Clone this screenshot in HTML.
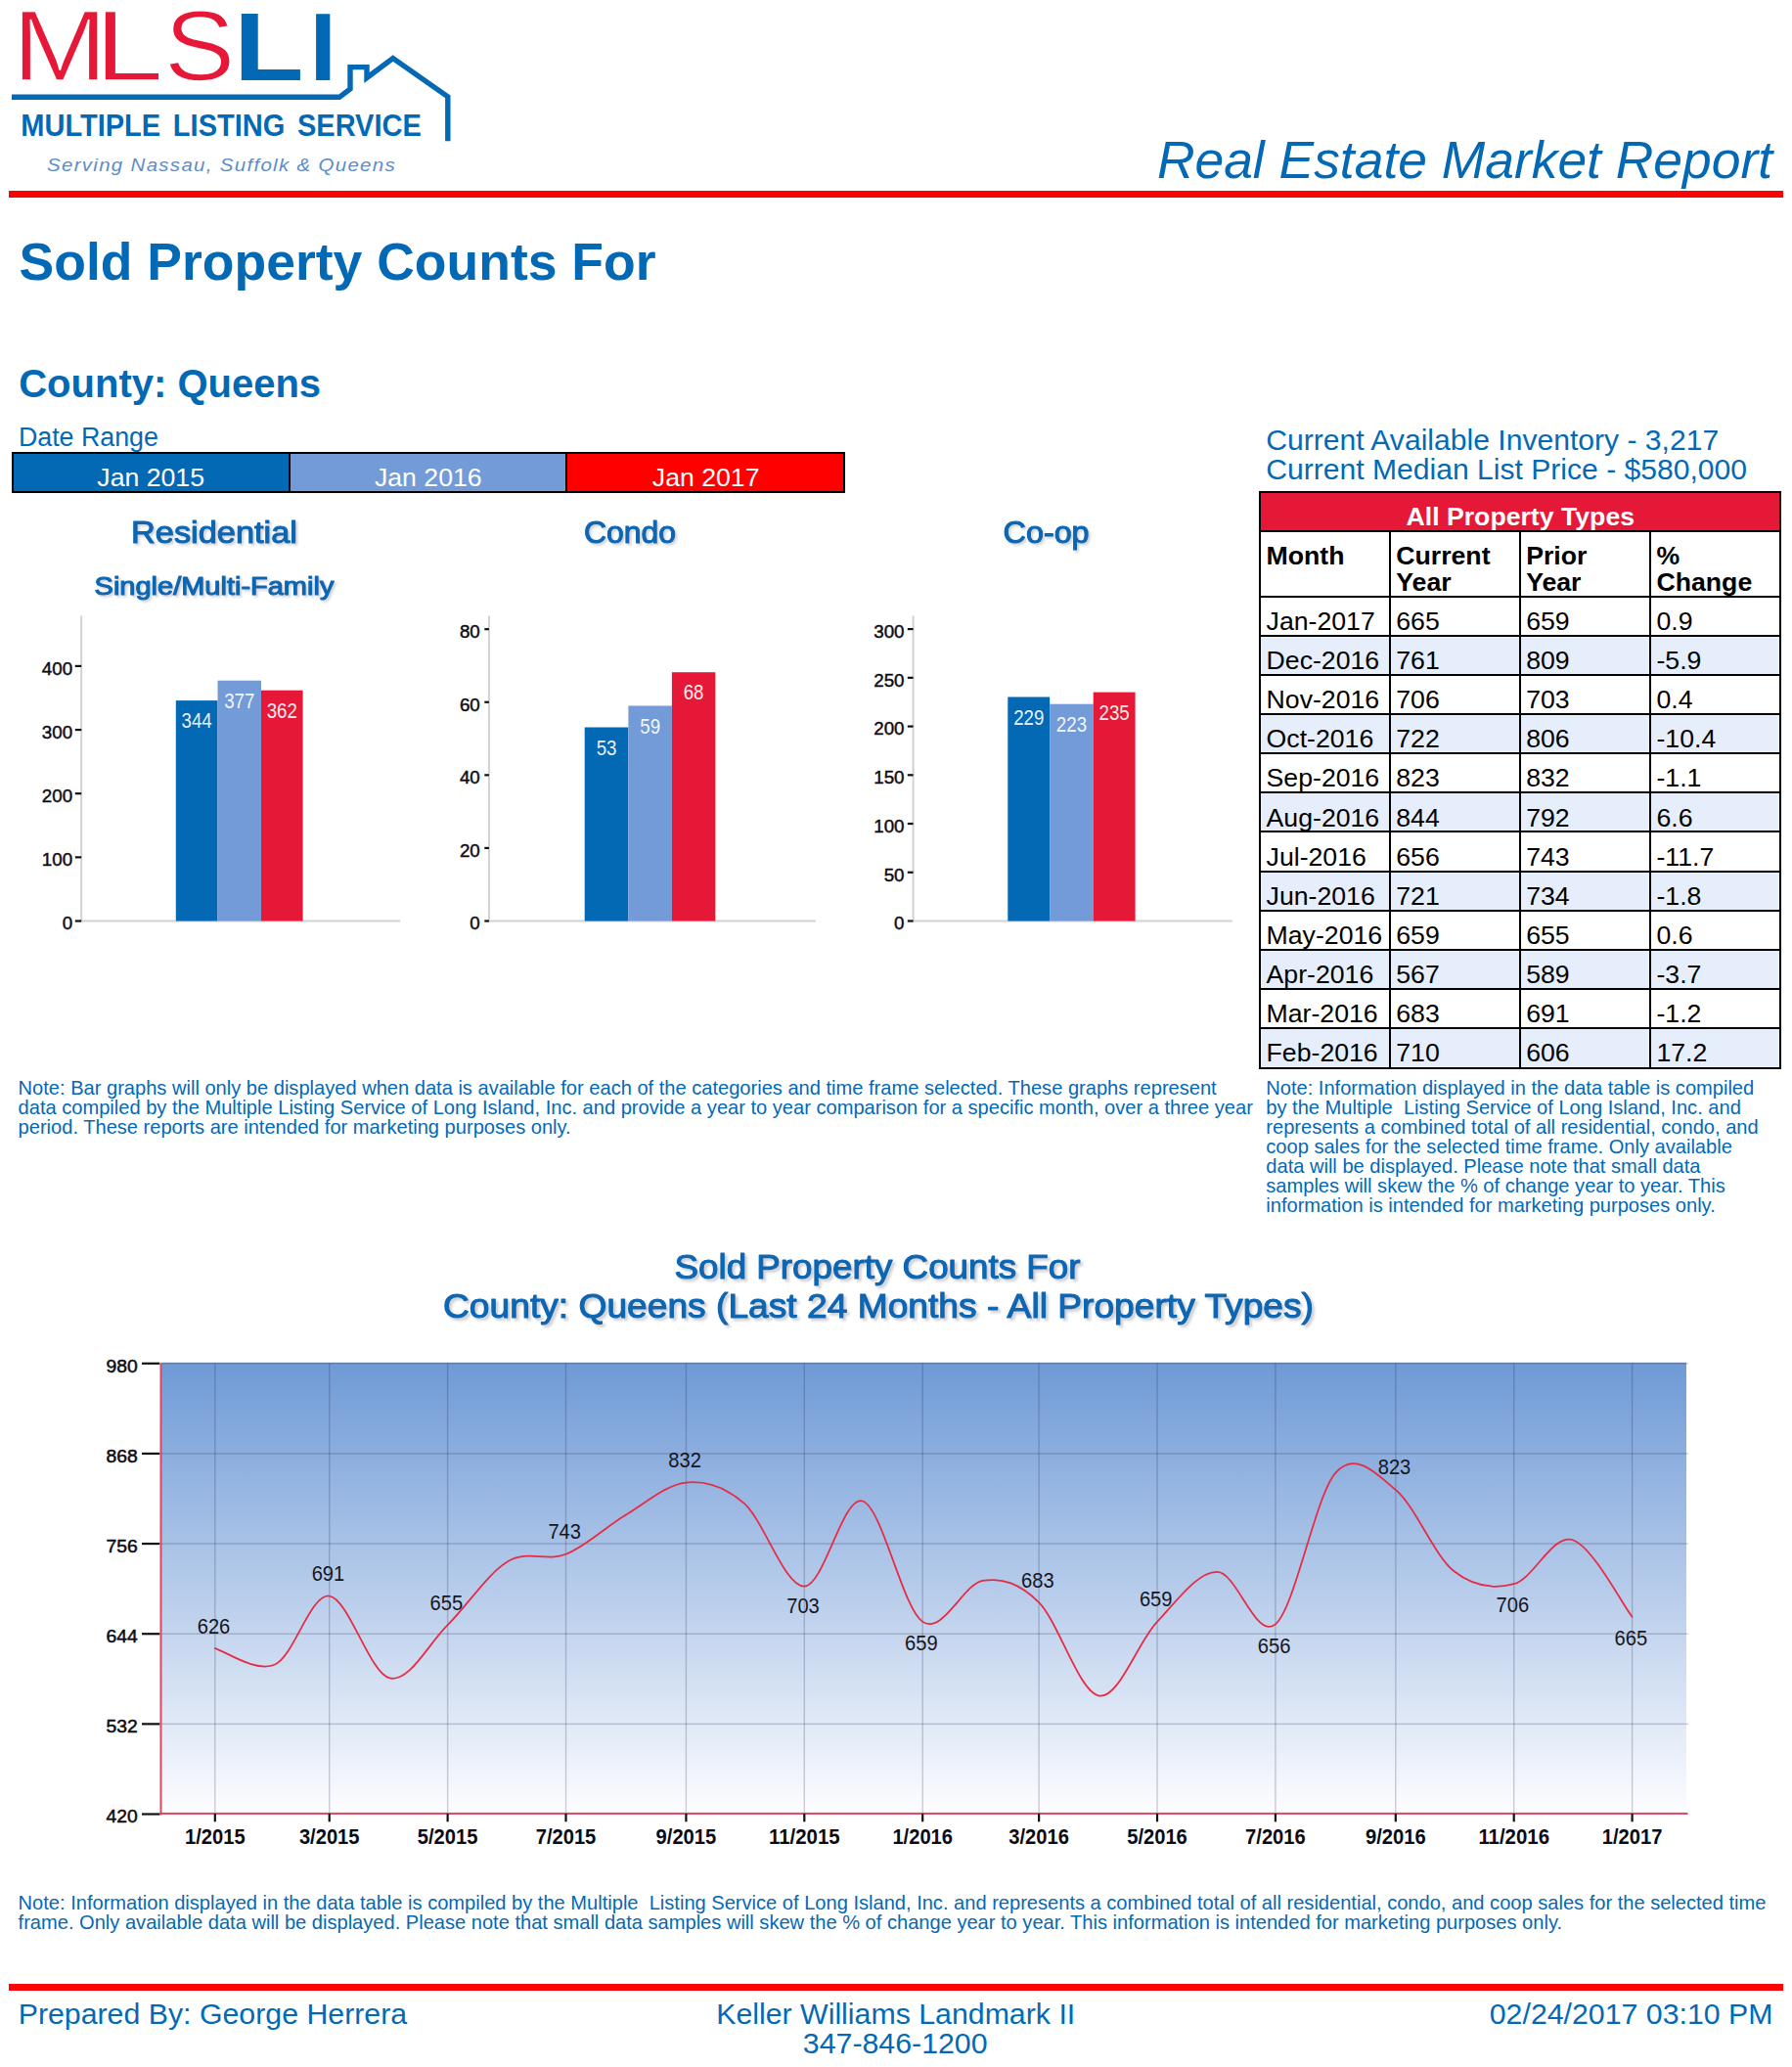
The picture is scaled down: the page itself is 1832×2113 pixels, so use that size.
<!DOCTYPE html>
<html lang="en"><head><meta charset="utf-8"><title>Real Estate Market Report</title>
<style>
html,body{margin:0;padding:0;background:#fff;}
body{width:1832px;height:2113px;position:relative;overflow:hidden;font-family:'Liberation Sans',Arial,sans-serif;}
.t{position:absolute;white-space:pre;margin:0;padding:0;}
.rl{position:absolute;left:9px;width:1814.3px;height:6.6px;background:#F80606;}
#pagesvg{position:absolute;left:0;top:0;}
#pagesvg text{font-family:'Liberation Sans',Arial,sans-serif;}
.db{position:absolute;top:462px;height:38px;border:2px solid #000;box-sizing:content-box;}
table.dt{position:absolute;left:1287.2px;top:502.2px;border-collapse:collapse;table-layout:fixed;width:532.2px;font-size:26.67px;color:#000;}
table.dt td,table.dt th{border:2px solid #000;padding:0 0 0 5.4px;text-align:left;vertical-align:top;overflow:hidden;white-space:nowrap;box-sizing:border-box;}
table.dt tr.d td{height:40.14px;line-height:26px;padding-top:11.3px;}
table.dt tr.alt td{background:#E6EEFC;}
table.dt tr.last td{height:40.6px;}
table.dt tr.h th{background:#E51937;color:#fff;text-align:center;font-weight:bold;height:39.8px;line-height:26px;padding:11.1px 0 0 0;}
table.dt tr.c th{font-weight:bold;line-height:26.7px;height:66.7px;padding-top:11.2px;white-space:normal;}
</style></head><body>

<div class="t" style="right:20.00px;top:131.50px;font-size:53.4px;line-height:64px;color:#0369B5;font-weight:normal;font-style:italic;">Real Estate Market Report</div>
<div class="rl" style="top:195px"></div>
<div class="t" style="left:19.60px;top:235.50px;font-size:53.5px;line-height:64px;color:#0369B5;font-weight:bold;font-style:normal;">Sold Property Counts For</div>
<div class="t" style="left:19.20px;top:368.00px;font-size:40.0px;line-height:48px;color:#0369B5;font-weight:bold;font-style:normal;">County: Queens</div>
<div class="t" style="left:18.90px;top:431.00px;font-size:26.8px;line-height:32px;color:#0369B5;font-weight:normal;font-style:normal;">Date Range</div>
<div class="db" style="left:12.00px;width:281.30px;background:#0369B5;"></div>
<div class="t" style="left:-845.85px;width:2000px;text-align:center;top:472.00px;font-size:26.67px;line-height:32px;color:#fff;font-weight:normal;font-style:normal;">Jan 2015</div>
<div class="db" style="left:295.30px;width:281.00px;background:#729BD7;"></div>
<div class="t" style="left:-562.20px;width:2000px;text-align:center;top:472.00px;font-size:26.67px;line-height:32px;color:#fff;font-weight:normal;font-style:normal;">Jan 2016</div>
<div class="db" style="left:578.30px;width:281.70px;background:#FF0000;"></div>
<div class="t" style="left:-278.35px;width:2000px;text-align:center;top:472.00px;font-size:26.67px;line-height:32px;color:#fff;font-weight:normal;font-style:normal;">Jan 2017</div>
<div class="t" style="left:1294.30px;top:431.50px;font-size:30.1px;line-height:36px;color:#0369B5;font-weight:normal;font-style:normal;">Current Available Inventory - 3,217</div>
<div class="t" style="left:1294.30px;top:461.50px;font-size:30.1px;line-height:36px;color:#0369B5;font-weight:normal;font-style:normal;">Current Median List Price - $580,000</div>
<table class="dt"><colgroup><col style="width:132.7px"><col style="width:132.9px"><col style="width:133.3px"><col style="width:133.3px"></colgroup>
<tr class="h"><th colspan="4">All Property Types</th></tr>
<tr class="c"><th>Month</th><th>Current<br>Year</th><th>Prior<br>Year</th><th>%<br>Change</th></tr>
<tr class="d"><td>Jan-2017</td><td>665</td><td>659</td><td>0.9</td></tr>
<tr class="d alt"><td>Dec-2016</td><td>761</td><td>809</td><td>-5.9</td></tr>
<tr class="d"><td>Nov-2016</td><td>706</td><td>703</td><td>0.4</td></tr>
<tr class="d alt"><td>Oct-2016</td><td>722</td><td>806</td><td>-10.4</td></tr>
<tr class="d"><td>Sep-2016</td><td>823</td><td>832</td><td>-1.1</td></tr>
<tr class="d alt"><td>Aug-2016</td><td>844</td><td>792</td><td>6.6</td></tr>
<tr class="d"><td>Jul-2016</td><td>656</td><td>743</td><td>-11.7</td></tr>
<tr class="d alt"><td>Jun-2016</td><td>721</td><td>734</td><td>-1.8</td></tr>
<tr class="d"><td>May-2016</td><td>659</td><td>655</td><td>0.6</td></tr>
<tr class="d alt"><td>Apr-2016</td><td>567</td><td>589</td><td>-3.7</td></tr>
<tr class="d"><td>Mar-2016</td><td>683</td><td>691</td><td>-1.2</td></tr>
<tr class="d alt last"><td>Feb-2016</td><td>710</td><td>606</td><td>17.2</td></tr>
</table>
<div class="t" style="left:18.60px;top:1100.00px;font-size:20.09px;line-height:24px;color:#0369B5;font-weight:normal;font-style:normal;">Note: Bar graphs will only be displayed when data is available for each of the categories and time frame selected. These graphs represent</div>
<div class="t" style="left:18.60px;top:1120.00px;font-size:20.09px;line-height:24px;color:#0369B5;font-weight:normal;font-style:normal;">data compiled by the Multiple Listing Service of Long Island, Inc. and provide a year to year comparison for a specific month, over a three year</div>
<div class="t" style="left:18.60px;top:1140.00px;font-size:20.09px;line-height:24px;color:#0369B5;font-weight:normal;font-style:normal;">period. These reports are intended for marketing purposes only.</div>
<div class="t" style="left:1294.30px;top:1100.00px;font-size:20.09px;line-height:24px;color:#0369B5;font-weight:normal;font-style:normal;">Note: Information displayed in the data table is compiled</div>
<div class="t" style="left:1294.30px;top:1120.00px;font-size:20.09px;line-height:24px;color:#0369B5;font-weight:normal;font-style:normal;">by the Multiple  Listing Service of Long Island, Inc. and</div>
<div class="t" style="left:1294.30px;top:1140.00px;font-size:20.09px;line-height:24px;color:#0369B5;font-weight:normal;font-style:normal;">represents a combined total of all residential, condo, and</div>
<div class="t" style="left:1294.30px;top:1160.00px;font-size:20.09px;line-height:24px;color:#0369B5;font-weight:normal;font-style:normal;">coop sales for the selected time frame. Only available</div>
<div class="t" style="left:1294.30px;top:1180.00px;font-size:20.09px;line-height:24px;color:#0369B5;font-weight:normal;font-style:normal;">data will be displayed. Please note that small data</div>
<div class="t" style="left:1294.30px;top:1200.00px;font-size:20.09px;line-height:24px;color:#0369B5;font-weight:normal;font-style:normal;">samples will skew the % of change year to year. This</div>
<div class="t" style="left:1294.30px;top:1220.00px;font-size:20.09px;line-height:24px;color:#0369B5;font-weight:normal;font-style:normal;">information is intended for marketing purposes only.</div>
<div class="t" style="left:18.60px;top:1933.00px;font-size:20.09px;line-height:24px;color:#0369B5;font-weight:normal;font-style:normal;">Note: Information displayed in the data table is compiled by the Multiple  Listing Service of Long Island, Inc. and represents a combined total of all residential, condo, and coop sales for the selected time</div>
<div class="t" style="left:18.60px;top:1953.00px;font-size:20.09px;line-height:24px;color:#0369B5;font-weight:normal;font-style:normal;">frame. Only available data will be displayed. Please note that small data samples will skew the % of change year to year. This information is intended for marketing purposes only.</div>
<div class="rl" style="top:2028px"></div>
<div class="t" style="left:18.70px;top:2040.50px;font-size:30.3px;line-height:36px;color:#0369B5;font-weight:normal;font-style:normal;">Prepared By: George Herrera</div>
<div class="t" style="left:-84.30px;width:2000px;text-align:center;top:2040.50px;font-size:30.3px;line-height:36px;color:#0369B5;font-weight:normal;font-style:normal;">Keller Williams Landmark II</div>
<div class="t" style="left:-84.80px;width:2000px;text-align:center;top:2070.50px;font-size:30.3px;line-height:36px;color:#0369B5;font-weight:normal;font-style:normal;">347-846-1200</div>
<div class="t" style="right:19.50px;top:2040.50px;font-size:30.3px;line-height:36px;color:#0369B5;font-weight:normal;font-style:normal;">02/24/2017 03:10 PM</div>
<svg id="pagesvg" width="1832" height="2113" viewBox="0 0 1832 2113">
<defs>
<linearGradient id="pg" x1="0" y1="0" x2="0" y2="1"><stop offset="0" stop-color="#6F9AD6"/><stop offset="1" stop-color="#FDFDFF"/></linearGradient>
<filter id="sh" x="-5%" y="-20%" width="110%" height="150%"><feDropShadow dx="2" dy="2" stdDeviation="1.0" flood-color="#334" flood-opacity="0.22"/></filter>
<filter id="sh2" x="-5%" y="-20%" width="110%" height="150%"><feDropShadow dx="2.6" dy="2.6" stdDeviation="1.2" flood-color="#334" flood-opacity="0.24"/></filter>
</defs>
<g id="logo">
<text y="81.9" font-size="101.7" fill="#E51937" stroke="#fff" stroke-width="1.4"><tspan x="12.4" textLength="97.1" lengthAdjust="spacingAndGlyphs">M</tspan><tspan x="96.5" textLength="70.7" lengthAdjust="spacingAndGlyphs">L</tspan><tspan x="168.1" textLength="72.2" lengthAdjust="spacingAndGlyphs">S</tspan></text>
<text x="239.1" y="82" font-size="98.5" font-weight="bold" fill="#0369B5" textLength="71.5" lengthAdjust="spacingAndGlyphs">L</text>
<text x="316.4" y="82" font-size="98.5" font-weight="bold" fill="#0369B5">I</text>
<path d="M12 99.3 H347 L358 91 V68.6 H375 V79.5 L401.7 59.6 L457.8 98.8 V144.3" fill="none" stroke="#0369B5" stroke-width="5.4" stroke-linejoin="miter" stroke-miterlimit="10"/>
<text x="21.3" y="139.3" font-size="31" font-weight="bold" fill="#0369B5" textLength="409.5" lengthAdjust="spacingAndGlyphs" word-spacing="5">MULTIPLE LISTING SERVICE</text>
<text x="48" y="175" font-size="18.7" font-style="italic" fill="#5C8DC9" textLength="357" lengthAdjust="spacingAndGlyphs" letter-spacing="1.2">Serving Nassau, Suffolk &amp; Queens</text>
</g>
<text x="219.00" y="555.00" font-size="31.6" fill="#0E66B2" stroke="#0E66B2" stroke-width="1.1" stroke-linejoin="round" text-anchor="middle" textLength="170.00" lengthAdjust="spacingAndGlyphs" filter="url(#sh)">Residential</text>
<text x="219.00" y="607.80" font-size="25.2" fill="#0E66B2" stroke="#0E66B2" stroke-width="1.1" stroke-linejoin="round" text-anchor="middle" textLength="244.80" lengthAdjust="spacingAndGlyphs" filter="url(#sh)">Single/Multi-Family</text>
<text x="644.00" y="555.20" font-size="31.6" fill="#0E66B2" stroke="#0E66B2" stroke-width="1.1" stroke-linejoin="round" text-anchor="middle" textLength="94.00" lengthAdjust="spacingAndGlyphs" filter="url(#sh)">Condo</text>
<text x="1069.60" y="555.20" font-size="31.6" fill="#0E66B2" stroke="#0E66B2" stroke-width="1.1" stroke-linejoin="round" text-anchor="middle" textLength="88.00" lengthAdjust="spacingAndGlyphs" filter="url(#sh)">Co-op</text>
<rect x="82.20" y="629.5" width="2" height="313.00" fill="#D2D2D2"/>
<rect x="82.20" y="940.50" width="326.80" height="2" fill="#D2D2D2"/>
<rect x="76.80" y="940.40" width="6.4" height="2.2" fill="#111"/>
<text x="74.10" y="950.40" font-size="19.1" fill="#0b0b14" font-weight="normal" text-anchor="end" textLength="10.43" lengthAdjust="spacingAndGlyphs" stroke="#0b0b14" stroke-width="0.45">0</text>
<rect x="76.80" y="875.25" width="6.4" height="2.2" fill="#111"/>
<text x="74.10" y="885.25" font-size="19.1" fill="#0b0b14" font-weight="normal" text-anchor="end" textLength="31.29" lengthAdjust="spacingAndGlyphs" stroke="#0b0b14" stroke-width="0.45">100</text>
<rect x="76.80" y="810.10" width="6.4" height="2.2" fill="#111"/>
<text x="74.10" y="820.10" font-size="19.1" fill="#0b0b14" font-weight="normal" text-anchor="end" textLength="31.29" lengthAdjust="spacingAndGlyphs" stroke="#0b0b14" stroke-width="0.45">200</text>
<rect x="76.80" y="744.95" width="6.4" height="2.2" fill="#111"/>
<text x="74.10" y="754.95" font-size="19.1" fill="#0b0b14" font-weight="normal" text-anchor="end" textLength="31.29" lengthAdjust="spacingAndGlyphs" stroke="#0b0b14" stroke-width="0.45">300</text>
<rect x="76.80" y="679.80" width="6.4" height="2.2" fill="#111"/>
<text x="74.10" y="689.80" font-size="19.1" fill="#0b0b14" font-weight="normal" text-anchor="end" textLength="31.29" lengthAdjust="spacingAndGlyphs" stroke="#0b0b14" stroke-width="0.45">400</text>
<rect x="179.80" y="716.10" width="42.70" height="225.40" fill="#0369B5"/>
<text x="201.15" y="744.30" font-size="21.2" fill="#fff" font-weight="normal" text-anchor="middle" textLength="31.20" lengthAdjust="spacingAndGlyphs" fill-opacity="0.93">344</text>
<rect x="222.50" y="695.70" width="44.50" height="245.80" fill="#729BD7"/>
<text x="244.75" y="723.90" font-size="21.2" fill="#fff" font-weight="normal" text-anchor="middle" textLength="31.20" lengthAdjust="spacingAndGlyphs" fill-opacity="0.93">377</text>
<rect x="267.00" y="705.70" width="42.60" height="235.80" fill="#E51937"/>
<text x="288.30" y="733.90" font-size="21.2" fill="#fff" font-weight="normal" text-anchor="middle" textLength="31.20" lengthAdjust="spacingAndGlyphs" fill-opacity="0.93">362</text>
<rect x="498.90" y="629.5" width="2" height="313.00" fill="#D2D2D2"/>
<rect x="498.90" y="940.50" width="334.90" height="2" fill="#D2D2D2"/>
<rect x="495.30" y="940.40" width="4.6" height="2.2" fill="#111"/>
<text x="490.80" y="950.40" font-size="19.1" fill="#0b0b14" font-weight="normal" text-anchor="end" textLength="10.43" lengthAdjust="spacingAndGlyphs" stroke="#0b0b14" stroke-width="0.45">0</text>
<rect x="495.30" y="865.82" width="4.6" height="2.2" fill="#111"/>
<text x="490.80" y="875.82" font-size="19.1" fill="#0b0b14" font-weight="normal" text-anchor="end" textLength="20.86" lengthAdjust="spacingAndGlyphs" stroke="#0b0b14" stroke-width="0.45">20</text>
<rect x="495.30" y="791.24" width="4.6" height="2.2" fill="#111"/>
<text x="490.80" y="801.24" font-size="19.1" fill="#0b0b14" font-weight="normal" text-anchor="end" textLength="20.86" lengthAdjust="spacingAndGlyphs" stroke="#0b0b14" stroke-width="0.45">40</text>
<rect x="495.30" y="716.66" width="4.6" height="2.2" fill="#111"/>
<text x="490.80" y="726.66" font-size="19.1" fill="#0b0b14" font-weight="normal" text-anchor="end" textLength="20.86" lengthAdjust="spacingAndGlyphs" stroke="#0b0b14" stroke-width="0.45">60</text>
<rect x="495.30" y="642.08" width="4.6" height="2.2" fill="#111"/>
<text x="490.80" y="652.08" font-size="19.1" fill="#0b0b14" font-weight="normal" text-anchor="end" textLength="20.86" lengthAdjust="spacingAndGlyphs" stroke="#0b0b14" stroke-width="0.45">80</text>
<rect x="597.70" y="743.50" width="44.70" height="198.00" fill="#0369B5"/>
<text x="620.05" y="771.70" font-size="21.2" fill="#fff" font-weight="normal" text-anchor="middle" textLength="20.80" lengthAdjust="spacingAndGlyphs" fill-opacity="0.93">53</text>
<rect x="642.40" y="721.50" width="44.50" height="220.00" fill="#729BD7"/>
<text x="664.65" y="749.70" font-size="21.2" fill="#fff" font-weight="normal" text-anchor="middle" textLength="20.80" lengthAdjust="spacingAndGlyphs" fill-opacity="0.93">59</text>
<rect x="686.90" y="687.20" width="44.40" height="254.30" fill="#E51937"/>
<text x="709.10" y="715.40" font-size="21.2" fill="#fff" font-weight="normal" text-anchor="middle" textLength="20.80" lengthAdjust="spacingAndGlyphs" fill-opacity="0.93">68</text>
<rect x="932.60" y="629.5" width="2" height="313.00" fill="#D2D2D2"/>
<rect x="932.60" y="940.50" width="327.20" height="2" fill="#D2D2D2"/>
<rect x="927.80" y="940.40" width="5.8" height="2.2" fill="#111"/>
<text x="924.50" y="950.40" font-size="19.1" fill="#0b0b14" font-weight="normal" text-anchor="end" textLength="10.43" lengthAdjust="spacingAndGlyphs" stroke="#0b0b14" stroke-width="0.45">0</text>
<rect x="927.80" y="890.66" width="5.8" height="2.2" fill="#111"/>
<text x="924.50" y="900.66" font-size="19.1" fill="#0b0b14" font-weight="normal" text-anchor="end" textLength="20.86" lengthAdjust="spacingAndGlyphs" stroke="#0b0b14" stroke-width="0.45">50</text>
<rect x="927.80" y="840.93" width="5.8" height="2.2" fill="#111"/>
<text x="924.50" y="850.93" font-size="19.1" fill="#0b0b14" font-weight="normal" text-anchor="end" textLength="31.29" lengthAdjust="spacingAndGlyphs" stroke="#0b0b14" stroke-width="0.45">100</text>
<rect x="927.80" y="791.19" width="5.8" height="2.2" fill="#111"/>
<text x="924.50" y="801.19" font-size="19.1" fill="#0b0b14" font-weight="normal" text-anchor="end" textLength="31.29" lengthAdjust="spacingAndGlyphs" stroke="#0b0b14" stroke-width="0.45">150</text>
<rect x="927.80" y="741.46" width="5.8" height="2.2" fill="#111"/>
<text x="924.50" y="751.46" font-size="19.1" fill="#0b0b14" font-weight="normal" text-anchor="end" textLength="31.29" lengthAdjust="spacingAndGlyphs" stroke="#0b0b14" stroke-width="0.45">200</text>
<rect x="927.80" y="691.73" width="5.8" height="2.2" fill="#111"/>
<text x="924.50" y="701.73" font-size="19.1" fill="#0b0b14" font-weight="normal" text-anchor="end" textLength="31.29" lengthAdjust="spacingAndGlyphs" stroke="#0b0b14" stroke-width="0.45">250</text>
<rect x="927.80" y="641.99" width="5.8" height="2.2" fill="#111"/>
<text x="924.50" y="651.99" font-size="19.1" fill="#0b0b14" font-weight="normal" text-anchor="end" textLength="31.29" lengthAdjust="spacingAndGlyphs" stroke="#0b0b14" stroke-width="0.45">300</text>
<rect x="1030.30" y="712.50" width="42.90" height="229.00" fill="#0369B5"/>
<text x="1051.75" y="740.70" font-size="21.2" fill="#fff" font-weight="normal" text-anchor="middle" textLength="31.20" lengthAdjust="spacingAndGlyphs" fill-opacity="0.93">229</text>
<rect x="1073.20" y="719.70" width="44.50" height="221.80" fill="#729BD7"/>
<text x="1095.45" y="747.90" font-size="21.2" fill="#fff" font-weight="normal" text-anchor="middle" textLength="31.20" lengthAdjust="spacingAndGlyphs" fill-opacity="0.93">223</text>
<rect x="1117.70" y="707.60" width="42.90" height="233.90" fill="#E51937"/>
<text x="1139.15" y="735.80" font-size="21.2" fill="#fff" font-weight="normal" text-anchor="middle" textLength="31.20" lengthAdjust="spacingAndGlyphs" fill-opacity="0.93">235</text>
<text x="897.00" y="1307.20" font-size="34.6" fill="#0E66B2" stroke="#0E66B2" stroke-width="1.1" stroke-linejoin="round" text-anchor="middle" textLength="415.00" lengthAdjust="spacingAndGlyphs" filter="url(#sh2)">Sold Property Counts For</text>
<text x="898.00" y="1347.30" font-size="34.6" fill="#0E66B2" stroke="#0E66B2" stroke-width="1.1" stroke-linejoin="round" text-anchor="middle" textLength="890.00" lengthAdjust="spacingAndGlyphs" filter="url(#sh2)">County: Queens (Last 24 Months - All Property Types)</text>
<rect x="164.5" y="1392.80" width="1559.5" height="461.20" fill="url(#pg)"/>
<rect x="219.10" y="1393.8" width="1.4" height="460.70000000000005" fill="rgba(20,30,60,0.21)"/>
<rect x="336.03" y="1393.8" width="1.4" height="460.70000000000005" fill="rgba(20,30,60,0.21)"/>
<rect x="456.93" y="1393.8" width="1.4" height="460.70000000000005" fill="rgba(20,30,60,0.21)"/>
<rect x="577.83" y="1393.8" width="1.4" height="460.70000000000005" fill="rgba(20,30,60,0.21)"/>
<rect x="700.71" y="1393.8" width="1.4" height="460.70000000000005" fill="rgba(20,30,60,0.21)"/>
<rect x="821.61" y="1393.8" width="1.4" height="460.70000000000005" fill="rgba(20,30,60,0.21)"/>
<rect x="942.51" y="1393.8" width="1.4" height="460.70000000000005" fill="rgba(20,30,60,0.21)"/>
<rect x="1061.43" y="1393.8" width="1.4" height="460.70000000000005" fill="rgba(20,30,60,0.21)"/>
<rect x="1182.32" y="1393.8" width="1.4" height="460.70000000000005" fill="rgba(20,30,60,0.21)"/>
<rect x="1303.22" y="1393.8" width="1.4" height="460.70000000000005" fill="rgba(20,30,60,0.21)"/>
<rect x="1426.10" y="1393.8" width="1.4" height="460.70000000000005" fill="rgba(20,30,60,0.21)"/>
<rect x="1547.00" y="1393.8" width="1.4" height="460.70000000000005" fill="rgba(20,30,60,0.21)"/>
<rect x="1667.90" y="1393.8" width="1.4" height="460.70000000000005" fill="rgba(20,30,60,0.21)"/>
<rect x="164.5" y="1393.10" width="1561.5" height="1.4" fill="rgba(20,30,60,0.21)"/>
<rect x="164.5" y="1485.24" width="1561.5" height="1.4" fill="rgba(20,30,60,0.21)"/>
<rect x="164.5" y="1577.38" width="1561.5" height="1.4" fill="rgba(20,30,60,0.21)"/>
<rect x="164.5" y="1669.52" width="1561.5" height="1.4" fill="rgba(20,30,60,0.21)"/>
<rect x="164.5" y="1761.66" width="1561.5" height="1.4" fill="rgba(20,30,60,0.21)"/>
<rect x="163.50" y="1393.8" width="2.0" height="461.70" fill="#DD4560"/>
<rect x="163.50" y="1852.90" width="1562.00" height="2" fill="#DD4560"/>
<rect x="145.00" y="1392.70" width="18.3" height="2.2" fill="#111"/>
<text x="140.70" y="1402.70" font-size="19.1" fill="#0b0b14" font-weight="normal" text-anchor="end" textLength="32.20" lengthAdjust="spacingAndGlyphs" stroke="#0b0b14" stroke-width="0.5">980</text>
<rect x="145.00" y="1484.84" width="18.3" height="2.2" fill="#111"/>
<text x="140.70" y="1494.84" font-size="19.1" fill="#0b0b14" font-weight="normal" text-anchor="end" textLength="32.20" lengthAdjust="spacingAndGlyphs" stroke="#0b0b14" stroke-width="0.5">868</text>
<rect x="145.00" y="1576.98" width="18.3" height="2.2" fill="#111"/>
<text x="140.70" y="1586.98" font-size="19.1" fill="#0b0b14" font-weight="normal" text-anchor="end" textLength="32.20" lengthAdjust="spacingAndGlyphs" stroke="#0b0b14" stroke-width="0.5">756</text>
<rect x="145.00" y="1669.12" width="18.3" height="2.2" fill="#111"/>
<text x="140.70" y="1679.12" font-size="19.1" fill="#0b0b14" font-weight="normal" text-anchor="end" textLength="32.20" lengthAdjust="spacingAndGlyphs" stroke="#0b0b14" stroke-width="0.5">644</text>
<rect x="145.00" y="1761.26" width="18.3" height="2.2" fill="#111"/>
<text x="140.70" y="1771.26" font-size="19.1" fill="#0b0b14" font-weight="normal" text-anchor="end" textLength="32.20" lengthAdjust="spacingAndGlyphs" stroke="#0b0b14" stroke-width="0.5">532</text>
<rect x="145.00" y="1853.40" width="18.3" height="2.2" fill="#111"/>
<text x="140.70" y="1863.40" font-size="19.1" fill="#0b0b14" font-weight="normal" text-anchor="end" textLength="32.20" lengthAdjust="spacingAndGlyphs" stroke="#0b0b14" stroke-width="0.5">420</text>
<rect x="218.70" y="1854.00" width="2.2" height="8.3" fill="#111"/>
<text x="219.80" y="1884.90" font-size="21.2" fill="#0b0b14" font-weight="bold" text-anchor="middle" textLength="61.60" lengthAdjust="spacingAndGlyphs" >1/2015</text>
<rect x="335.63" y="1854.00" width="2.2" height="8.3" fill="#111"/>
<text x="336.73" y="1884.90" font-size="21.2" fill="#0b0b14" font-weight="bold" text-anchor="middle" textLength="61.60" lengthAdjust="spacingAndGlyphs" >3/2015</text>
<rect x="456.53" y="1854.00" width="2.2" height="8.3" fill="#111"/>
<text x="457.63" y="1884.90" font-size="21.2" fill="#0b0b14" font-weight="bold" text-anchor="middle" textLength="61.60" lengthAdjust="spacingAndGlyphs" >5/2015</text>
<rect x="577.43" y="1854.00" width="2.2" height="8.3" fill="#111"/>
<text x="578.53" y="1884.90" font-size="21.2" fill="#0b0b14" font-weight="bold" text-anchor="middle" textLength="61.60" lengthAdjust="spacingAndGlyphs" >7/2015</text>
<rect x="700.31" y="1854.00" width="2.2" height="8.3" fill="#111"/>
<text x="701.41" y="1884.90" font-size="21.2" fill="#0b0b14" font-weight="bold" text-anchor="middle" textLength="61.60" lengthAdjust="spacingAndGlyphs" >9/2015</text>
<rect x="821.21" y="1854.00" width="2.2" height="8.3" fill="#111"/>
<text x="822.31" y="1884.90" font-size="21.2" fill="#0b0b14" font-weight="bold" text-anchor="middle" textLength="72.60" lengthAdjust="spacingAndGlyphs" >11/2015</text>
<rect x="942.11" y="1854.00" width="2.2" height="8.3" fill="#111"/>
<text x="943.21" y="1884.90" font-size="21.2" fill="#0b0b14" font-weight="bold" text-anchor="middle" textLength="61.60" lengthAdjust="spacingAndGlyphs" >1/2016</text>
<rect x="1061.03" y="1854.00" width="2.2" height="8.3" fill="#111"/>
<text x="1062.13" y="1884.90" font-size="21.2" fill="#0b0b14" font-weight="bold" text-anchor="middle" textLength="61.60" lengthAdjust="spacingAndGlyphs" >3/2016</text>
<rect x="1181.92" y="1854.00" width="2.2" height="8.3" fill="#111"/>
<text x="1183.02" y="1884.90" font-size="21.2" fill="#0b0b14" font-weight="bold" text-anchor="middle" textLength="61.60" lengthAdjust="spacingAndGlyphs" >5/2016</text>
<rect x="1302.82" y="1854.00" width="2.2" height="8.3" fill="#111"/>
<text x="1303.92" y="1884.90" font-size="21.2" fill="#0b0b14" font-weight="bold" text-anchor="middle" textLength="61.60" lengthAdjust="spacingAndGlyphs" >7/2016</text>
<rect x="1425.70" y="1854.00" width="2.2" height="8.3" fill="#111"/>
<text x="1426.80" y="1884.90" font-size="21.2" fill="#0b0b14" font-weight="bold" text-anchor="middle" textLength="61.60" lengthAdjust="spacingAndGlyphs" >9/2016</text>
<rect x="1546.60" y="1854.00" width="2.2" height="8.3" fill="#111"/>
<text x="1547.70" y="1884.90" font-size="21.2" fill="#0b0b14" font-weight="bold" text-anchor="middle" textLength="72.60" lengthAdjust="spacingAndGlyphs" >11/2016</text>
<rect x="1667.50" y="1854.00" width="2.2" height="8.3" fill="#111"/>
<text x="1668.60" y="1884.90" font-size="21.2" fill="#0b0b14" font-weight="bold" text-anchor="middle" textLength="61.60" lengthAdjust="spacingAndGlyphs" >1/2017</text>
<path d="M219.80 1685.03 C230.04 1687.77 261.75 1710.39 281.24 1701.48 C300.73 1692.57 317.25 1629.22 336.73 1631.55 C356.22 1633.89 378.03 1710.53 398.17 1715.47 C418.32 1720.40 437.48 1681.05 457.63 1661.17 C477.78 1641.29 498.92 1608.24 519.07 1596.18 C539.22 1584.11 558.38 1596.73 578.53 1588.77 C598.68 1580.82 619.49 1560.67 639.97 1548.46 C660.45 1536.26 681.26 1517.48 701.41 1515.56 C721.56 1513.64 740.72 1519.26 760.87 1536.95 C781.02 1554.63 802.16 1622.09 822.31 1621.68 C842.46 1621.27 861.62 1528.45 881.77 1534.48 C901.92 1540.51 922.73 1644.31 943.21 1657.88 C963.69 1671.45 984.83 1619.21 1004.65 1615.92 C1024.47 1612.63 1042.31 1618.53 1062.13 1638.14 C1081.95 1657.74 1103.42 1730.28 1123.57 1733.57 C1143.72 1736.86 1162.87 1679.00 1183.02 1657.88 C1203.17 1636.76 1224.31 1606.46 1244.46 1606.87 C1264.61 1607.29 1283.77 1677.21 1303.92 1660.35 C1324.07 1643.48 1344.88 1528.58 1365.36 1505.68 C1385.84 1482.79 1406.65 1506.23 1426.80 1522.96 C1446.95 1539.69 1466.11 1590.01 1486.26 1606.05 C1506.41 1622.09 1527.55 1624.56 1547.70 1619.21 C1567.85 1613.87 1587.01 1568.34 1607.16 1573.97 C1627.31 1579.59 1658.36 1639.78 1668.60 1652.94" fill="none" stroke="#E62B44" stroke-width="1.75" stroke-linecap="round" stroke-linejoin="round"/>
<text x="218.50" y="1669.53" font-size="22.9" fill="#16161f" font-weight="normal" text-anchor="middle" textLength="33.60" lengthAdjust="spacingAndGlyphs" >626</text>
<text x="335.43" y="1616.05" font-size="22.9" fill="#16161f" font-weight="normal" text-anchor="middle" textLength="33.60" lengthAdjust="spacingAndGlyphs" >691</text>
<text x="456.33" y="1645.67" font-size="22.9" fill="#16161f" font-weight="normal" text-anchor="middle" textLength="33.60" lengthAdjust="spacingAndGlyphs" >655</text>
<text x="577.23" y="1573.27" font-size="22.9" fill="#16161f" font-weight="normal" text-anchor="middle" textLength="33.60" lengthAdjust="spacingAndGlyphs" >743</text>
<text x="700.11" y="1500.06" font-size="22.9" fill="#16161f" font-weight="normal" text-anchor="middle" textLength="33.60" lengthAdjust="spacingAndGlyphs" >832</text>
<text x="821.01" y="1649.08" font-size="22.9" fill="#16161f" font-weight="normal" text-anchor="middle" textLength="33.60" lengthAdjust="spacingAndGlyphs" >703</text>
<text x="941.91" y="1687.08" font-size="22.9" fill="#16161f" font-weight="normal" text-anchor="middle" textLength="33.60" lengthAdjust="spacingAndGlyphs" >659</text>
<text x="1060.83" y="1622.64" font-size="22.9" fill="#16161f" font-weight="normal" text-anchor="middle" textLength="33.60" lengthAdjust="spacingAndGlyphs" >683</text>
<text x="1181.72" y="1642.38" font-size="22.9" fill="#16161f" font-weight="normal" text-anchor="middle" textLength="33.60" lengthAdjust="spacingAndGlyphs" >659</text>
<text x="1302.62" y="1689.55" font-size="22.9" fill="#16161f" font-weight="normal" text-anchor="middle" textLength="33.60" lengthAdjust="spacingAndGlyphs" >656</text>
<text x="1425.50" y="1507.46" font-size="22.9" fill="#16161f" font-weight="normal" text-anchor="middle" textLength="33.60" lengthAdjust="spacingAndGlyphs" >823</text>
<text x="1546.40" y="1648.41" font-size="22.9" fill="#16161f" font-weight="normal" text-anchor="middle" textLength="33.60" lengthAdjust="spacingAndGlyphs" >706</text>
<text x="1667.30" y="1682.14" font-size="22.9" fill="#16161f" font-weight="normal" text-anchor="middle" textLength="33.60" lengthAdjust="spacingAndGlyphs" >665</text>
</svg>
</body></html>
